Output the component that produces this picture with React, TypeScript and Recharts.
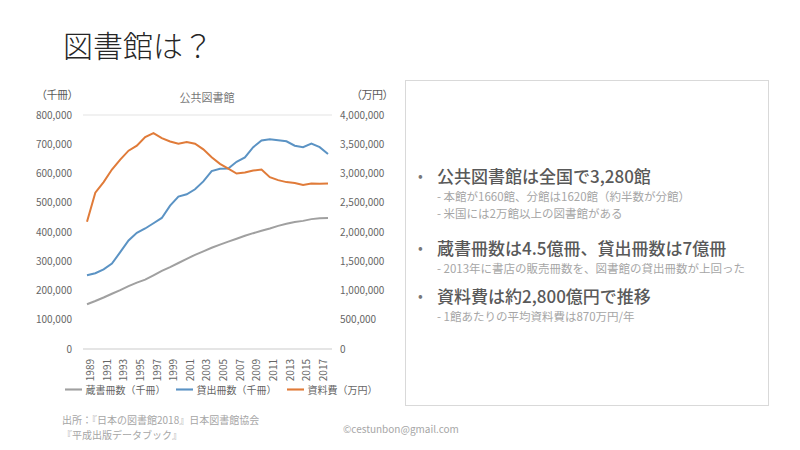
import { LineChart, Line, XAxis, YAxis, CartesianGrid, Legend } from 'recharts'

const FONT = '"Noto Sans CJK JP", "Noto Sans", sans-serif'

const years = [
  '1989', '1990', '1991', '1992', '1993', '1994', '1995', '1996', '1997', '1998',
  '1999', '2000', '2001', '2002', '2003', '2004', '2005', '2006', '2007', '2008',
  '2009', '2010', '2011', '2012', '2013', '2014', '2015', '2016', '2017', '2018',
]

// 蔵書冊数（千冊）
const stock = [
  153000, 164000, 176000, 189000, 201000, 215000, 227000, 237000, 252000, 267000,
  280000, 294000, 308000, 322000, 334000, 346000, 357000, 367000, 377000, 387000,
  396000, 404000, 412000, 421000, 428000, 434000, 438000, 444000, 447000, 448000,
]

// 貸出冊数（千冊）
const loans = [
  252000, 259000, 272000, 292000, 331000, 371000, 397000, 412000, 430000, 448000,
  490000, 521000, 529000, 546000, 573000, 608000, 616000, 617000, 640000, 655000,
  690000, 713000, 717000, 714000, 710000, 695000, 690000, 702000, 690000, 667000,
]

// 資料費（万円）
const cost = [
  2175000, 2673000, 2853000, 3068000, 3237000, 3390000, 3475000, 3622000, 3690000, 3605000,
  3548000, 3508000, 3537000, 3508000, 3412000, 3277000, 3164000, 3085000, 3000000, 3017000,
  3051000, 3068000, 2938000, 2887000, 2853000, 2836000, 2802000, 2830000, 2825000, 2830000,
]

const leftTicks = [0, 100000, 200000, 300000, 400000, 500000, 600000, 700000, 800000]
const rightTicks = [0, 500000, 1000000, 1500000, 2000000, 2500000, 3000000, 3500000, 4000000]

const data = years.map((year, i) => ({
  year,
  stock: stock[i],
  loans: loans[i],
  cost: cost[i],
}))

const fmt = (v: number) => v.toLocaleString('en-US')
const tickStyle = { fontSize: 10, fill: '#666', fontFamily: FONT }

const bullets = [
  {
    head: '公共図書館は全国で3,280館',
    top: 163,
    subs: ['- 本館が1660館、分館は1620館（約半数が分館）', '- 米国には2万館以上の図書館がある'],
  },
  {
    head: '蔵書冊数は4.5億冊、貸出冊数は7億冊',
    top: 235,
    subs: ['- 2013年に書店の販売冊数を、図書館の貸出冊数が上回った'],
  },
  {
    head: '資料費は約2,800億円で推移',
    top: 283,
    subs: ['- 1館あたりの平均資料費は870万円/年'],
  },
]

export default function App() {
  return (
    <div style={{ position: 'absolute', left: 0, top: 0, width: 800, height: 450, background: '#fff', fontFamily: FONT, overflow: 'hidden' }}>
      <div style={{ position: 'absolute', left: 63, top: 22, fontSize: 30, fontWeight: 300, color: '#262626', lineHeight: '44px' }}>
        図書館は？
      </div>

      <div style={{ position: 'absolute', left: 36, top: 86, fontSize: 11, color: '#595959', letterSpacing: -0.5 }}>（千冊）</div>
      <div style={{ position: 'absolute', left: 351, top: 86, fontSize: 11, color: '#595959', letterSpacing: -0.5 }}>（万円）</div>
      <div style={{ position: 'absolute', left: 157, top: 89, width: 100, textAlign: 'center', fontSize: 11, color: '#777' }}>公共図書館</div>

      <div style={{ position: 'absolute', left: 0, top: 0 }}>
        <LineChart width={392} height={402} data={data} margin={{ top: 115, right: 0, bottom: 0, left: 0 }}>
          <CartesianGrid vertical={false} stroke="#e3e3e3" />
          <XAxis
            dataKey="year"
            interval={1}
            angle={-90}
            textAnchor="end"
            tick={{ ...tickStyle, dy: -3 }}
            tickLine={false}
            axisLine={{ stroke: '#d9d9d9' }}
            tickMargin={7}
            height={29}
            padding={{ left: 4, right: 4 }}
          />
          <YAxis
            yAxisId="left"
            domain={[0, 800000]}
            ticks={leftTicks}
            tickFormatter={fmt}
            tick={tickStyle}
            axisLine={false}
            tickLine={false}
            tickSize={0}
            tickMargin={11}
            width={83}
          />
          <YAxis
            yAxisId="right"
            orientation="right"
            domain={[0, 4000000]}
            ticks={rightTicks}
            tickFormatter={fmt}
            tick={{ ...tickStyle, textAnchor: 'start' }}
            axisLine={false}
            tickLine={false}
            tickSize={0}
            tickMargin={8}
            width={60}
          />
          <Legend
            verticalAlign="bottom"
            iconType="plainline"
            iconSize={17}
            formatter={(v: string) => <span style={{ color: '#666', fontSize: 10 }}>{v}</span>}
            wrapperStyle={{ fontFamily: FONT, left: 30, bottom: 3 }}
          />
          <Line yAxisId="left" dataKey="stock" name="蔵書冊数（千冊）" stroke="#a0a0a0" strokeWidth={2} dot={false} isAnimationActive={false} />
          <Line yAxisId="left" dataKey="loans" name="貸出冊数（千冊）" stroke="#5b93c4" strokeWidth={2} dot={false} isAnimationActive={false} />
          <Line yAxisId="right" dataKey="cost" name="資料費（万円）" stroke="#e07b39" strokeWidth={2} dot={false} isAnimationActive={false} />
        </LineChart>
      </div>

      <div style={{ position: 'absolute', left: 405, top: 80, width: 362, height: 324, border: '1px solid #d9d9d9' }} />
      {bullets.map(b => (
        <div key={b.head} style={{ position: 'absolute', left: 418, top: b.top }}>
          <div style={{ display: 'flex', alignItems: 'center', height: 25 }}>
            <span style={{ width: 19, fontSize: 14, color: '#777', lineHeight: '25px' }}>•</span>
            <span style={{ fontSize: 17, fontWeight: 500, color: '#595959', lineHeight: '25px' }}>{b.head}</span>
          </div>
          {b.subs.map(s => (
            <div key={s} style={{ marginLeft: 19, fontSize: 11.5, color: '#a6a6a6', lineHeight: '17px' }}>{s}</div>
          ))}
        </div>
      ))}

      <div style={{ position: 'absolute', left: 62, top: 413, fontSize: 10, color: '#a6a6a6', lineHeight: '14.5px' }}>
        <div>出所：『日本の図書館2018』日本図書館協会</div>
        <div>『平成出版データブック』</div>
      </div>
      <div style={{ position: 'absolute', left: 343, top: 421, fontSize: 10, color: '#a6a6a6' }}>©cestunbon@gmail.com</div>
    </div>
  )
}
